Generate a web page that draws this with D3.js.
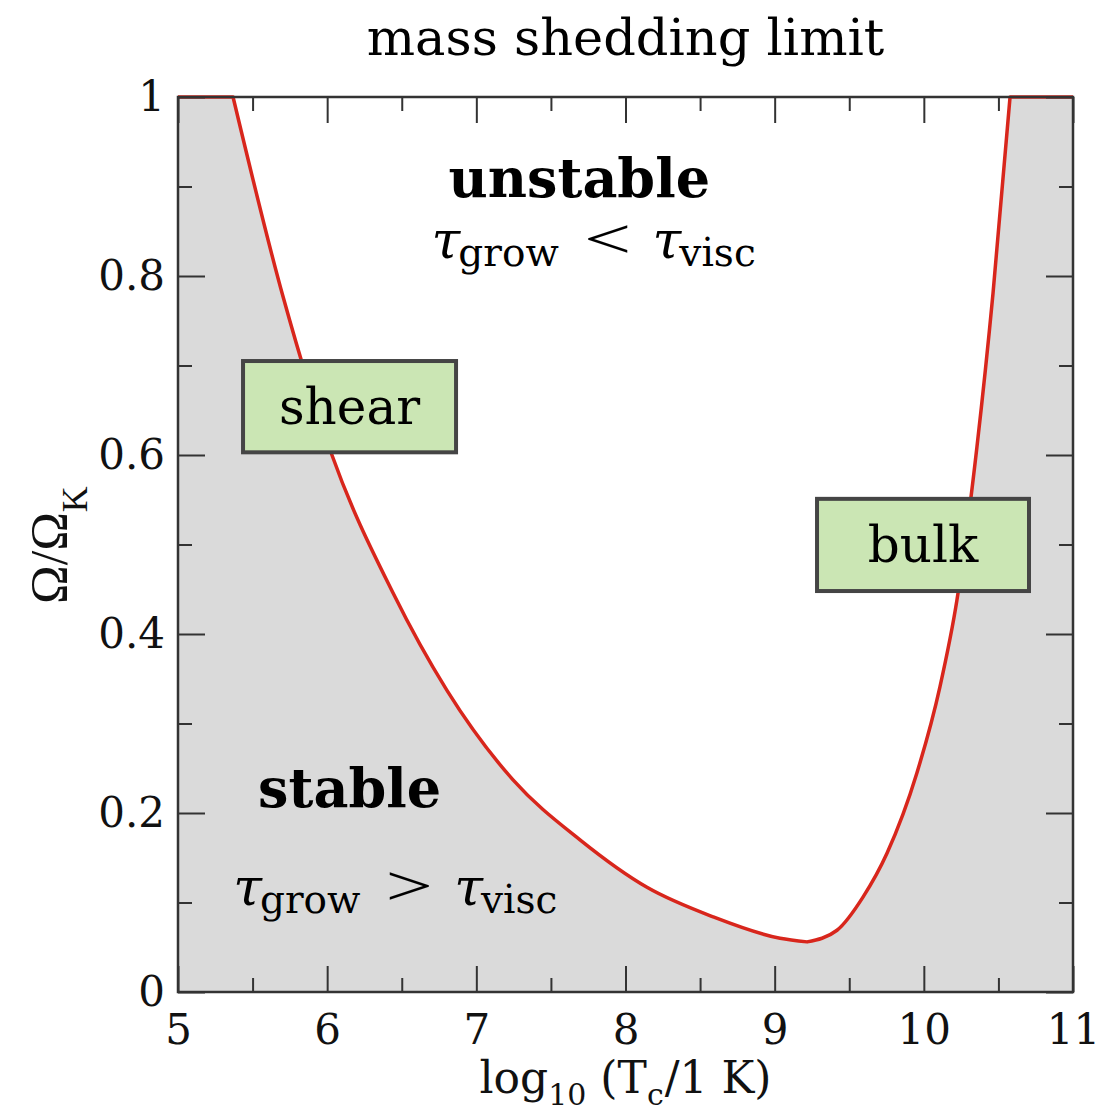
<!DOCTYPE html>
<html>
<head>
    <title>r-mode instability window</title>
    <script src="https://d3js.org/d3.v7.min.js"></script>
    <style>
        body { margin: 0; background: #fff; }
    </style>
</head>
<body>
    <svg width="1103" height="1117"></svg>
    <script>
        // instability boundary
        const logT = [5, 5.369, 5.704, 6.032, 6.441, 6.803, 7.246, 7.695, 8.144, 8.587, 9.036, 9.217,
                      9.418, 9.592, 9.753, 9.954, 10.108, 10.222, 10.356, 10.464, 10.578, 11];
        const omega = [1, 1, 0.777, 0.600, 0.446, 0.337, 0.237, 0.170, 0.117, 0.084, 0.060, 0.056,
                       0.069, 0.106, 0.155, 0.245, 0.341, 0.438, 0.609, 0.781, 1, 1];

        const xMajor = [5, 6, 7, 8, 9, 10, 11];
        const xMinor = [5.5, 6.5, 7.5, 8.5, 9.5, 10.5];
        const yMajor = [0, 0.2, 0.4, 0.6, 0.8, 1];
        const yMinor = [0.1, 0.3, 0.5, 0.7, 0.9];

        const svg = d3.select("svg"),
              margin = { top: 97, right: 30, bottom: 125, left: 178 },
              width = +svg.attr("width") - margin.left - margin.right,
              height = +svg.attr("height") - margin.top - margin.bottom,
              g = svg.append("g").attr("transform", `translate(${margin.left},${margin.top})`);

        const x = d3.scaleLinear().domain([5, 11]).range([0, width]);
        const y = d3.scaleLinear().domain([0, 1]).range([height, 0]);

        const data = logT.map((t, i) => ({ t, w: omega[i] }));

        // flat part at the mass shedding limit, the two branches, flat part again
        const iTopL = 1, iMin = 11, iTopR = 20;
        const pieces = [
            [0, iTopL, d3.curveLinear],
            [iTopL, iMin, d3.curveMonotoneX],
            [iMin, iTopR, d3.curveMonotoneX],
            [iTopR, data.length - 1, d3.curveLinear]
        ];
        const curvePath = pieces.map((p, i) => {
            const s = d3.line().curve(p[2]).x(d => x(d.t)).y(d => y(d.w))(data.slice(p[0], p[1] + 1));
            return i ? s.replace(/^M/, "L") : s;
        }).join("");

        svg.append("defs").append("clipPath").attr("id", "clip")
           .append("rect").attr("width", width).attr("height", height);

        // stable region (below the curve)
        g.append("path")
         .attr("clip-path", "url(#clip)")
         .attr("fill", "#dadada")
         .attr("d", curvePath + `L${x(11)},${y(0)}L${x(5)},${y(0)}Z`);

        g.append("path")
         .attr("fill", "none")
         .attr("stroke", "#d8261c")
         .attr("stroke-width", 3.5)
         .attr("stroke-linejoin", "round")
         .attr("d", curvePath);

        // frame
        g.append("rect")
         .attr("width", width).attr("height", height)
         .attr("fill", "none").attr("stroke", "#333").attr("stroke-width", 2.5);

        const serif = "'DejaVu Serif', serif";
        const times = "'Liberation Serif', 'Times New Roman', serif";
        function styleAxis(sel) {
            sel.select(".domain").remove();
            sel.selectAll(".tick line").attr("stroke", "#333").attr("stroke-width", 2);
            sel.selectAll("text").attr("font-family", serif).attr("font-size", 42).attr("fill", "#111");
        }

        // bottom / top ticks (inward)
        g.append("g").attr("transform", `translate(0,${height})`)
         .call(d3.axisBottom(x).tickValues(xMajor).tickSize(-26).tickPadding(22).tickFormat(d3.format("d")))
         .call(styleAxis)
         .selectAll("text").attr("dy", "0.71em");
        g.append("g").attr("transform", `translate(0,${height})`)
         .call(d3.axisBottom(x).tickValues(xMinor).tickSize(-14).tickFormat(""))
         .call(styleAxis);
        g.append("g")
         .call(d3.axisTop(x).tickValues(xMajor).tickSize(-26).tickFormat(""))
         .call(styleAxis);
        g.append("g")
         .call(d3.axisTop(x).tickValues(xMinor).tickSize(-14).tickFormat(""))
         .call(styleAxis);

        // left / right ticks (inward)
        g.append("g")
         .call(d3.axisLeft(y).tickValues(yMajor).tickSize(-27).tickPadding(13).tickFormat(d => d3.format("")(d)))
         .call(styleAxis);
        g.append("g")
         .call(d3.axisLeft(y).tickValues(yMinor).tickSize(-14).tickFormat(""))
         .call(styleAxis);
        g.append("g").attr("transform", `translate(${width},0)`)
         .call(d3.axisRight(y).tickValues(yMajor).tickSize(-27).tickFormat(""))
         .call(styleAxis);
        g.append("g").attr("transform", `translate(${width},0)`)
         .call(d3.axisRight(y).tickValues(yMinor).tickSize(-14).tickFormat(""))
         .call(styleAxis);

        // axis labels
        const xl = svg.append("text")
            .attr("x", margin.left + x(8)).attr("y", 1093)
            .attr("text-anchor", "middle")
            .attr("font-family", serif).attr("font-size", 44).attr("fill", "#111");
        xl.append("tspan").text("log");
        xl.append("tspan").attr("font-size", 30).attr("dy", 12).text("10");
        xl.append("tspan").attr("dy", -12).text(" (T");
        xl.append("tspan").attr("font-size", 30).attr("dy", 12).text("c");
        xl.append("tspan").attr("dy", -12).attr("dx", 1).text("/1 K)");

        const yl = svg.append("text")
            .attr("transform", "translate(67,545) rotate(-90)")
            .attr("text-anchor", "middle")
            .attr("font-family", times).attr("font-size", 52).attr("fill", "#111");
        yl.append("tspan").text("Ω/Ω");
        yl.append("tspan").attr("font-size", 36).attr("dy", 20).text("K");

        // annotations
        svg.append("text")
           .attr("x", margin.left + x(8)).attr("y", 55)
           .attr("text-anchor", "middle")
           .attr("font-family", serif).attr("font-size", 51).attr("fill", "#000")
           .text("mass shedding limit");

        g.append("text")
         .attr("x", x(7.69)).attr("y", y(0.888))
         .attr("text-anchor", "middle")
         .attr("font-family", serif).attr("font-weight", "bold").attr("font-size", 54)
         .text("unstable");
        g.append("text")
         .attr("x", x(6.15)).attr("y", y(0.207))
         .attr("text-anchor", "middle")
         .attr("font-family", serif).attr("font-weight", "bold").attr("font-size", 54)
         .text("stable");

        function tauTerm(parent, x0, sub) {
            const t = parent.append("text")
                .attr("x", x0)
                .attr("font-family", serif).attr("font-size", 52).attr("fill", "#000");
            t.append("tspan").attr("font-style", "italic").text("τ");
            t.append("tspan").attr("font-size", 39).attr("dy", 8).attr("dx", -2).text(sub);
        }
        function tauRelation(t0, w0, sign) {
            const r = g.append("g").attr("transform", `translate(${x(t0)},${y(w0)})`);
            tauTerm(r, 0, "grow");
            // wide, thin relation sign
            r.append("text")
             .attr("transform", "translate(176,0) scale(1.5,1)")
             .attr("text-anchor", "middle")
             .attr("font-family", times).attr("font-size", 56).attr("fill", "#000")
             .text(sign);
            tauTerm(r, 221, "visc");
        }
        tauRelation(6.70, 0.820, "<");
        tauRelation(5.37, 0.097, ">");

        // boxed labels
        const boxes = [
            { label: "shear", t0: 5.436, t1: 6.864, w0: 0.603, w1: 0.705 },
            { label: "bulk", t0: 9.284, t1: 10.705, w0: 0.448, w1: 0.551 }
        ];
        boxes.forEach(b => {
            g.append("rect")
             .attr("x", x(b.t0)).attr("y", y(b.w1))
             .attr("width", x(b.t1) - x(b.t0)).attr("height", y(b.w0) - y(b.w1))
             .attr("fill", "#cbe6b4").attr("stroke", "#454545").attr("stroke-width", 4);
            g.append("text")
             .attr("x", (x(b.t0) + x(b.t1)) / 2).attr("y", (y(b.w0) + y(b.w1)) / 2)
             .attr("dy", "0.35em")
             .attr("text-anchor", "middle")
             .attr("font-family", serif).attr("font-size", 50).attr("fill", "#000")
             .text(b.label);
        });
    </script>
</body>
</html>
